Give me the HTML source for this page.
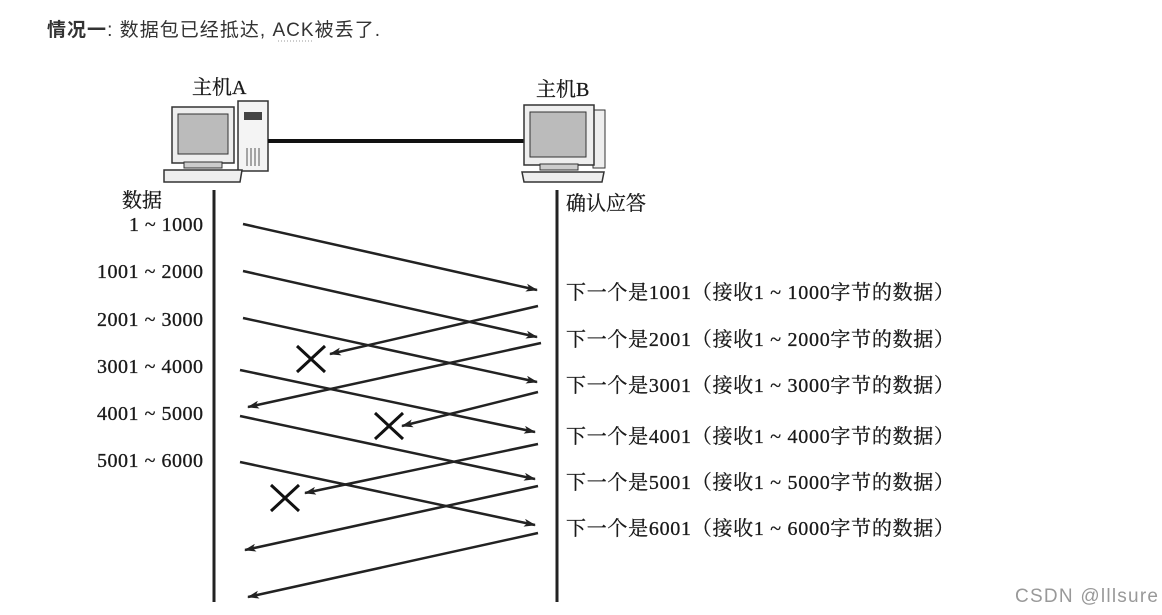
<!DOCTYPE html>
<html><head><meta charset="utf-8"><style>
html,body{margin:0;padding:0;background:#fff;}
svg{display:block;}
.t{font-family:"Liberation Serif","Noto Serif CJK SC",serif;font-size:20px;fill:#1a1a1a;stroke:#1a1a1a;stroke-width:0.3;}
</style></head><body>
<svg width="1162" height="615" viewBox="0 0 1162 615" xmlns="http://www.w3.org/2000/svg">
<defs>
<marker id="ar" markerWidth="12" markerHeight="8" refX="11" refY="4" orient="auto" markerUnits="userSpaceOnUse">
<path d="M0,0 L12,4 L0,8 L3,4 z" fill="#222"/>
</marker>
</defs>
<text x="47" y="36" font-family="Liberation Sans,'Noto Sans CJK SC',sans-serif" font-size="19" fill="#333" textLength="333"><tspan font-weight="bold">情况一</tspan>: 数据包已经抵达, ACK被丢了.</text>
<line x1="278" y1="41" x2="313" y2="41" stroke="#999" stroke-dasharray="1,2"/>

<!-- Host A -->
<text class="t" x="192" y="94">主机A</text>
<rect x="172" y="107" width="62" height="56" fill="#eee" stroke="#333" stroke-width="1.5"/>
<rect x="178" y="114" width="50" height="40" fill="#bbb" stroke="#333"/>
<rect x="184" y="162" width="38" height="6" fill="#ccc" stroke="#333"/>
<rect x="238" y="101" width="30" height="70" fill="#f4f4f4" stroke="#333" stroke-width="1.5"/>
<rect x="244" y="112" width="18" height="8" fill="#444"/>
<path d="M247 148v18M251 148v18M255 148v18M259 148v18" stroke="#555"/>
<path d="M164 170h78l-2 12h-76z" fill="#eee" stroke="#333" stroke-width="1.5"/>
<line x1="268" y1="141" x2="525" y2="141" stroke="#111" stroke-width="4"/>
<!-- Host B -->
<text class="t" x="536" y="96">主机B</text>
<rect x="593" y="110" width="12" height="58" fill="#eee" stroke="#333"/>
<rect x="524" y="105" width="70" height="60" fill="#eee" stroke="#333" stroke-width="1.5"/>
<rect x="530" y="112" width="56" height="45" fill="#bbb" stroke="#333"/>
<rect x="540" y="164" width="38" height="6" fill="#ccc" stroke="#333"/>
<path d="M522 172h82l-2 10h-78z" fill="#eee" stroke="#333" stroke-width="1.5"/>

<line x1="214" y1="190" x2="214" y2="602" stroke="#222" stroke-width="3"/>
<line x1="557" y1="190" x2="557" y2="602" stroke="#222" stroke-width="3"/>

<text class="t" x="122" y="207">数据</text>
<g class="t">
<text x="129" y="231" textLength="74">1 ~ 1000</text>
<text x="97" y="278" textLength="106">1001 ~ 2000</text>
<text x="97" y="326" textLength="106">2001 ~ 3000</text>
<text x="97" y="373" textLength="106">3001 ~ 4000</text>
<text x="97" y="420" textLength="106">4001 ~ 5000</text>
<text x="97" y="467" textLength="106">5001 ~ 6000</text>
</g>
<text class="t" x="566" y="210">确认应答</text>
<g class="t">
<text x="566" y="299" textLength="388">下一个是1001（接收1 ~ 1000字节的数据）</text>
<text x="566" y="346" textLength="388">下一个是2001（接收1 ~ 2000字节的数据）</text>
<text x="566" y="392" textLength="388">下一个是3001（接收1 ~ 3000字节的数据）</text>
<text x="566" y="443" textLength="388">下一个是4001（接收1 ~ 4000字节的数据）</text>
<text x="566" y="489" textLength="388">下一个是5001（接收1 ~ 5000字节的数据）</text>
<text x="566" y="535" textLength="388">下一个是6001（接收1 ~ 6000字节的数据）</text>
</g>

<g stroke="#222" stroke-width="2.5" fill="none" marker-end="url(#ar)">
<line x1="243" y1="224" x2="537" y2="290"/>
<line x1="243" y1="271" x2="537" y2="337"/>
<line x1="243" y1="318" x2="537" y2="382"/>
<line x1="240" y1="370" x2="535" y2="432"/>
<line x1="240" y1="416" x2="535" y2="479"/>
<line x1="240" y1="462" x2="535" y2="525"/>
<line x1="538" y1="306" x2="330" y2="354"/>
<line x1="541" y1="343" x2="248" y2="407"/>
<line x1="538" y1="392" x2="402" y2="426"/>
<line x1="538" y1="444" x2="305" y2="493"/>
<line x1="538" y1="486" x2="245" y2="550"/>
<line x1="538" y1="533" x2="248" y2="597"/>
</g>
<g stroke="#111" stroke-width="3">
<path d="M297 346l28 26M325 346l-28 26"/>
<path d="M375 413l28 26M403 413l-28 26"/>
<path d="M271 485l28 26M299 485l-28 26"/>
</g>
<text x="1015" y="602" font-family="Liberation Sans,sans-serif" font-size="19" fill="#999" textLength="143">CSDN @lllsure</text>
</svg>
</body></html>
